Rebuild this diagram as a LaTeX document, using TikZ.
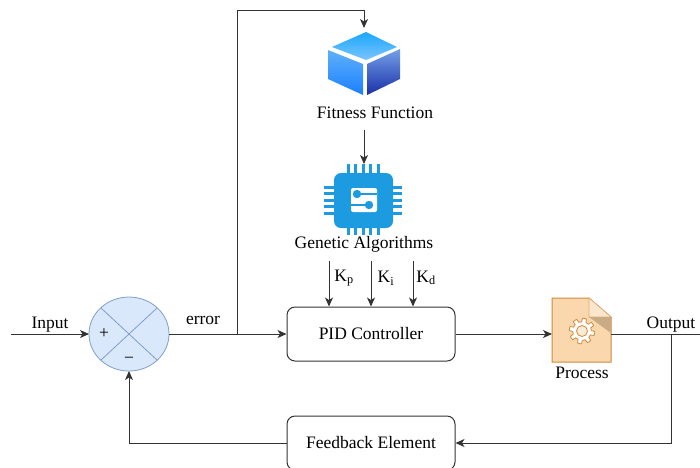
\documentclass[tikz,border=0pt]{standalone}
\usepackage{fontspec}
\setmainfont{Liberation Serif}
\usepackage{tikz}
\usetikzlibrary{arrows.meta, positioning}
\definecolor{sumfill}{HTML}{DAE8FC}
\definecolor{sumline}{HTML}{7F9FCB}
\definecolor{chipblue}{HTML}{1C9BE0}
\definecolor{docfill}{HTML}{FAD7AC}
\definecolor{docline}{HTML}{D08A3C}
\definecolor{docfold}{HTML}{C9AB85}
\definecolor{wireline}{HTML}{333333}
\tikzset{
  block/.style={
    rectangle,
    rounded corners=8pt,
    draw=wireline,
    line width=1pt,
    minimum width=168pt,
    minimum height=54pt,
    inner sep=0pt,
    align=center
  },
  label/.style={
    inner sep=0pt,
    align=center
  },
  icon/.style={
    inner sep=0pt,
    outer sep=0pt
  },
  wire/.style={
    draw=wireline,
    line width=1pt
  },
  pin/.style={
    draw=chipblue,
    line width=3pt
  }
}

\begin{document}
\begin{tikzpicture}[x=1pt, y=-1pt, ->, >={Stealth[length=9pt, width=8pt, inset=2.5pt]}, font=\fontsize{17.5}{20}\selectfont]
        \useasboundingbox (0,0) rectangle (700,467);

        % Define the nodes
        \node[block] (pid) at (371,334) {PID Controller};
        \node[block] (feedback) at (371,443) {Feedback Element};
        \node[icon, minimum width=80pt, minimum height=74pt] (summer) at (129,334) {};
        \node[icon, minimum width=72pt, minimum height=68pt] (cube) at (364,62) {};
        \node[icon, minimum width=78pt, minimum height=72pt] (chip) at (364,200) {};
        \node[icon, minimum width=59pt, minimum height=64pt] (process) at (581.5,330) {};

        % Text of the icons
        \node[label, minimum height=34pt] (fitness) at (375,113) {Fitness Function};
        \node[label] (genetic) at (364,244) {Genetic Algorithms};
        \node[label] (processtext) at (582,373) {Process};
        \node[label] (input) at (50,325) {Input};
        \node[label] (error) at (203,320) {error};
        \node[label] (output) at (671,325) {Output};
        \node[label] (kplabel) at (344,278) {K\textsubscript{p}};
        \node[label] (kilabel) at (386,278) {K\textsubscript{i}};
        \node[label] (kdlabel) at (426,278) {K\textsubscript{d}};

        % Free ends and branch points
        \coordinate (start) at (11,334);
        \coordinate (finish) at (700,334);
        \coordinate (errorup) at (237,334);
        \coordinate (top) at (237,10);
        \coordinate (outdown) at (671,334);
        \coordinate (kp) at (329,261);
        \coordinate (ki) at (371,261);
        \coordinate (kd) at (413,261);

        % Summing junction
        \begin{scope}[-]
        \draw[fill=sumfill, draw=sumline, line width=0.8pt] (summer.center) ellipse (40 and 37);
        \draw[draw=sumline, line width=0.8pt] (summer.center) +(-28,-26) -- +(28,26);
        \draw[draw=sumline, line width=0.8pt] (summer.center) +(-28,26) -- +(28,-26);
        \end{scope}
        \node[label] (plus) at (104,334) {+};
        \node[label] (minus) at (129,360) {\textminus};

        % Cube icon
        \begin{scope}[-]
        \shade[top color={rgb,255:red,26;green,167;blue,255}, bottom color={rgb,255:red,124;green,196;blue,251}]
          (366,32) -- (397,47) -- (366,60) -- (332,47) -- cycle;
        \shade[top color={rgb,255:red,96;green,176;blue,250}, bottom color={rgb,255:red,26;green,128;blue,255}]
          (328,50) -- (363,64) -- (363,95) -- (328,79) -- cycle;
        \shade[top color={rgb,255:red,116;green,160;blue,232}, bottom color={rgb,255:red,26;green,47;blue,168}]
          (367,64) -- (400,49) -- (400,79) -- (367,95) -- cycle;

        % Chip icon
        \foreach \i in {348,355.5,...,378} {
          \draw[pin] (\i,164) -- (\i,173);
          \draw[pin] (\i,228) -- (\i,235);
        }
        \foreach \j in {187,193.5,...,213} {
          \draw[pin] (324,\j) -- (334,\j);
          \draw[pin] (393,\j) -- (402,\j);
        }
        \fill[chipblue, rounded corners=7pt] (334,173) rectangle (393,228);
        \fill[white, rounded corners=2pt] (351,188) rectangle (377,212);
        \draw[chipblue, line width=2pt] (357,194) -- (377,194);
        \draw[chipblue, line width=2pt] (351,205) -- (369,205);
        \fill[chipblue] (357,194) circle (4.2);
        \fill[chipblue] (369,205) circle (4.2);

        % Process icon
        \draw[fill=docfill, draw=docline, line width=1pt]
          (552,298) -- (589,298) -- (611,317) -- (611,362) -- (552,362) -- cycle;
        \draw[fill=docfill!60!white, draw=docline!70, line width=0.6pt]
          (589,298) -- (611,317) -- (589,317) -- cycle;
        \fill[docfold] (589,317) -- (611,317) -- (611,333) -- cycle;
        \draw[fill=white, draw=docline, line width=0.8pt]
          plot[domain=0:360, samples=161, smooth] ({582+(11+1.8*max(min(3*sin(8*\x),1),-1))*cos(\x)}, {331+(11+1.8*max(min(3*sin(8*\x),1),-1))*sin(\x)}) -- cycle;
        \draw[fill=docfill!50!white, draw=docline, line width=0.8pt] (582,331) circle (5.5);
        \end{scope}

        % Arrows of the loop
        \draw[wire] (start) -- (summer.west);
        \draw[wire, -] (summer.east) -- (errorup);
        \draw[wire] (errorup) -- (pid.west);
        \draw[wire] (pid.east) -- (pid.east -| process.west);
        \draw[wire, -] (outdown -| process.east) -- (finish);
        \draw[wire] (errorup) -- (top) -| (cube.north);
        \draw[wire] (fitness.south -| chip.north) -- (chip.north);
        \draw[wire] (kp) -- (kp |- pid.north);
        \draw[wire] (ki) -- (ki |- pid.north);
        \draw[wire] (kd) -- (kd |- pid.north);
        \draw[wire] (outdown) |- (feedback.east);
        \draw[wire] (feedback.west) -| (summer.south);
\end{tikzpicture}
\end{document}
